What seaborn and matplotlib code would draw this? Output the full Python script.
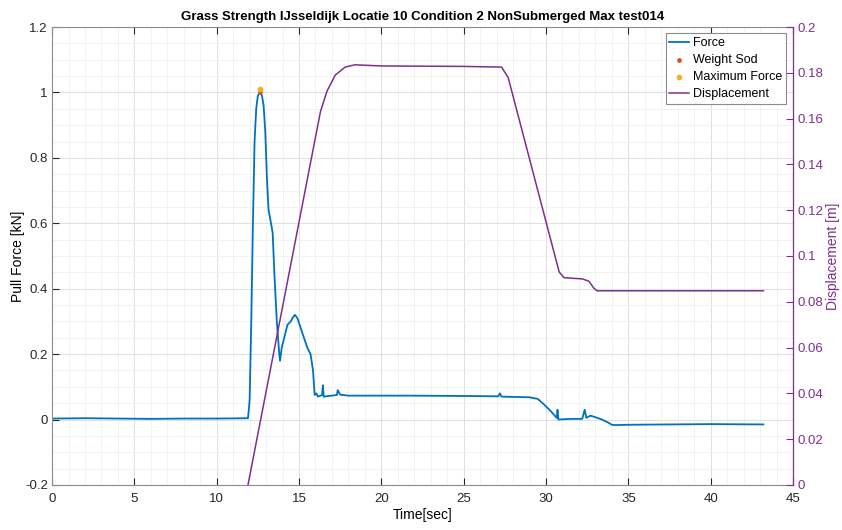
import numpy as np
import pandas as pd
import matplotlib
matplotlib.use("Agg")
import matplotlib.pyplot as plt
import seaborn as sb
from matplotlib.ticker import MultipleLocator

# force trace
force_t = [0, 2, 4, 6, 8, 10, 11.9, 11.95, 12.0, 12.1, 12.2, 12.3, 12.4, 12.5, 12.63, 12.75,
           12.85, 12.95, 13.05, 13.15, 13.3, 13.4, 13.5, 13.65, 13.8, 13.85, 13.95, 14.1, 14.3,
           14.5, 14.6, 14.75, 14.9, 15.1, 15.3, 15.5, 15.7, 15.85, 15.95, 16.05, 16.15, 16.4,
           16.45, 16.5, 16.8, 17.3, 17.35, 17.5, 18, 19, 22, 25, 27.1, 27.2, 27.3, 29.0, 29.5,
           29.9, 30.3, 30.65, 30.7, 30.75, 31.5, 32.2, 32.35, 32.45, 32.7, 33.0, 33.4, 33.8,
           34.0, 34.2, 35, 40, 43.2]
force_kn = [0.003, 0.004, 0.003, 0.002, 0.003, 0.003, 0.004, 0.03, 0.06, 0.3, 0.6, 0.85, 0.95,
            0.99, 1.0, 0.99, 0.96, 0.88, 0.74, 0.64, 0.6, 0.57, 0.45, 0.3, 0.2, 0.18, 0.22, 0.25,
            0.29, 0.3, 0.31, 0.32, 0.31, 0.28, 0.25, 0.22, 0.2, 0.15, 0.075, 0.08, 0.07, 0.075,
            0.105, 0.07, 0.072, 0.075, 0.09, 0.076, 0.073, 0.073, 0.073, 0.072, 0.071, 0.08,
            0.07, 0.068, 0.063, 0.045, 0.025, 0.005, 0.03, 0.0, 0.002, 0.002, 0.03, 0.005, 0.012,
            0.007, 0.0, -0.01, -0.016, -0.017, -0.016, -0.014, -0.015]

# displacement trace
disp_t = [11.9, 16.3, 16.7, 17.2, 17.8, 18.4, 20, 25, 27.3, 27.7, 30.8, 31.1, 32.2, 32.6, 32.9,
          33.1, 43.2]
disp_m = [0.0, 0.163, 0.172, 0.179, 0.1825, 0.1835, 0.183, 0.1828, 0.1825, 0.178, 0.093, 0.0905,
          0.09, 0.089, 0.086, 0.0848, 0.0848]

weight_t, weight_f = [12.63], [1.0]
max_t, max_f = [12.63], [1.01]

c_force = "#0072BD"
c_weight = "#D95319"
c_max = "#EDB120"
c_disp = "#7E2F8E"

plt.rcParams['font.family'] = ['Liberation Sans', 'DejaVu Sans']
plt.rcParams['font.size'] = 9.5

fig = plt.figure(figsize=(8.42, 5.30), dpi=100)
ax = fig.add_axes([0.0618, 0.085, 0.88, 0.864])
ax2 = ax.twinx()

df_f = pd.DataFrame({"t": force_t, "f": force_kn})
df_d = pd.DataFrame({"t": disp_t, "d": disp_m})

sb.lineplot(data=df_f, x="t", y="f", ax=ax, color=c_force, lw=1.3, sort=False,
            estimator=None, label="Force", legend=False)
sb.scatterplot(x=weight_t, y=weight_f, ax=ax, color=c_weight, s=10, marker="o",
               edgecolor=c_weight, label="Weight Sod", legend=False, zorder=5)
sb.scatterplot(x=max_t, y=max_f, ax=ax, color=c_max, s=14, marker="o",
               edgecolor=c_max, label="Maximum Force", legend=False, zorder=6)
sb.lineplot(data=df_d, x="t", y="d", ax=ax2, color=c_disp, lw=1.1, sort=False,
            estimator=None, label="Displacement", legend=False)

ax.set_xlim(0, 45)
ax.set_ylim(-0.2, 1.2)
ax2.set_ylim(0, 0.2)
ax.xaxis.set_minor_locator(MultipleLocator(1))
ax.yaxis.set_minor_locator(MultipleLocator(0.05))

ax.set_xticks(np.arange(0, 46, 5))
ax.set_xticklabels([str(v) for v in range(0, 46, 5)])
ax.set_yticks(np.arange(-0.2, 1.21, 0.2))
ax.set_yticklabels(["-0.2", "0", "0.2", "0.4", "0.6", "0.8", "1", "1.2"])
ax2.set_yticks(np.arange(0, 0.201, 0.02))
ax2.set_yticklabels(["0", "0.02", "0.04", "0.06", "0.08", "0.1", "0.12", "0.14",
                     "0.16", "0.18", "0.2"])

ax.grid(which="major", color="#e0e0e0", lw=0.7)
ax.grid(which="minor", color="#f0f0f0", lw=0.6)
ax.set_axisbelow(True)

ax.tick_params(which="major", direction="in", length=5, top=True, colors="#262626",
               labelsize=9.5)
ax.tick_params(axis="x", pad=6)
ax.tick_params(axis="y", pad=3)
ax.tick_params(which="minor", length=0)
ax2.tick_params(which="major", direction="in", length=5, colors=c_disp, labelsize=9.5, pad=3)
for s in ["left", "bottom", "top"]:
    ax.spines[s].set_color("#8c8c8c")
ax2.spines["right"].set_color(c_disp)
for s in ["left", "bottom", "top"]:
    ax2.spines[s].set_visible(False)

ax.set_xlabel("Time[sec]", fontsize=10, labelpad=2)
ax.set_ylabel("Pull Force [kN]", fontsize=10, labelpad=0)
ax2.set_ylabel("Displacement [m]", fontsize=10, color=c_disp, labelpad=2)
ax.set_title("Grass Strength IJsseldijk Locatie 10 Condition 2 NonSubmerged Max test014",
             fontsize=9.5, fontweight="bold", pad=5)

h1, l1 = ax.get_legend_handles_labels()
h2, l2 = ax2.get_legend_handles_labels()
leg = ax2.legend(h1 + h2, l1 + l2, loc="upper right", bbox_to_anchor=(0.994, 0.992),
                 fancybox=False, framealpha=1, edgecolor="#8c8c8c", fontsize=9,
                 handlelength=1.6, handletextpad=0.3, borderpad=0.3, labelspacing=0.4,
                 borderaxespad=0.2)
leg.get_frame().set_linewidth(0.8)

plt.savefig("out.png", dpi=100)
